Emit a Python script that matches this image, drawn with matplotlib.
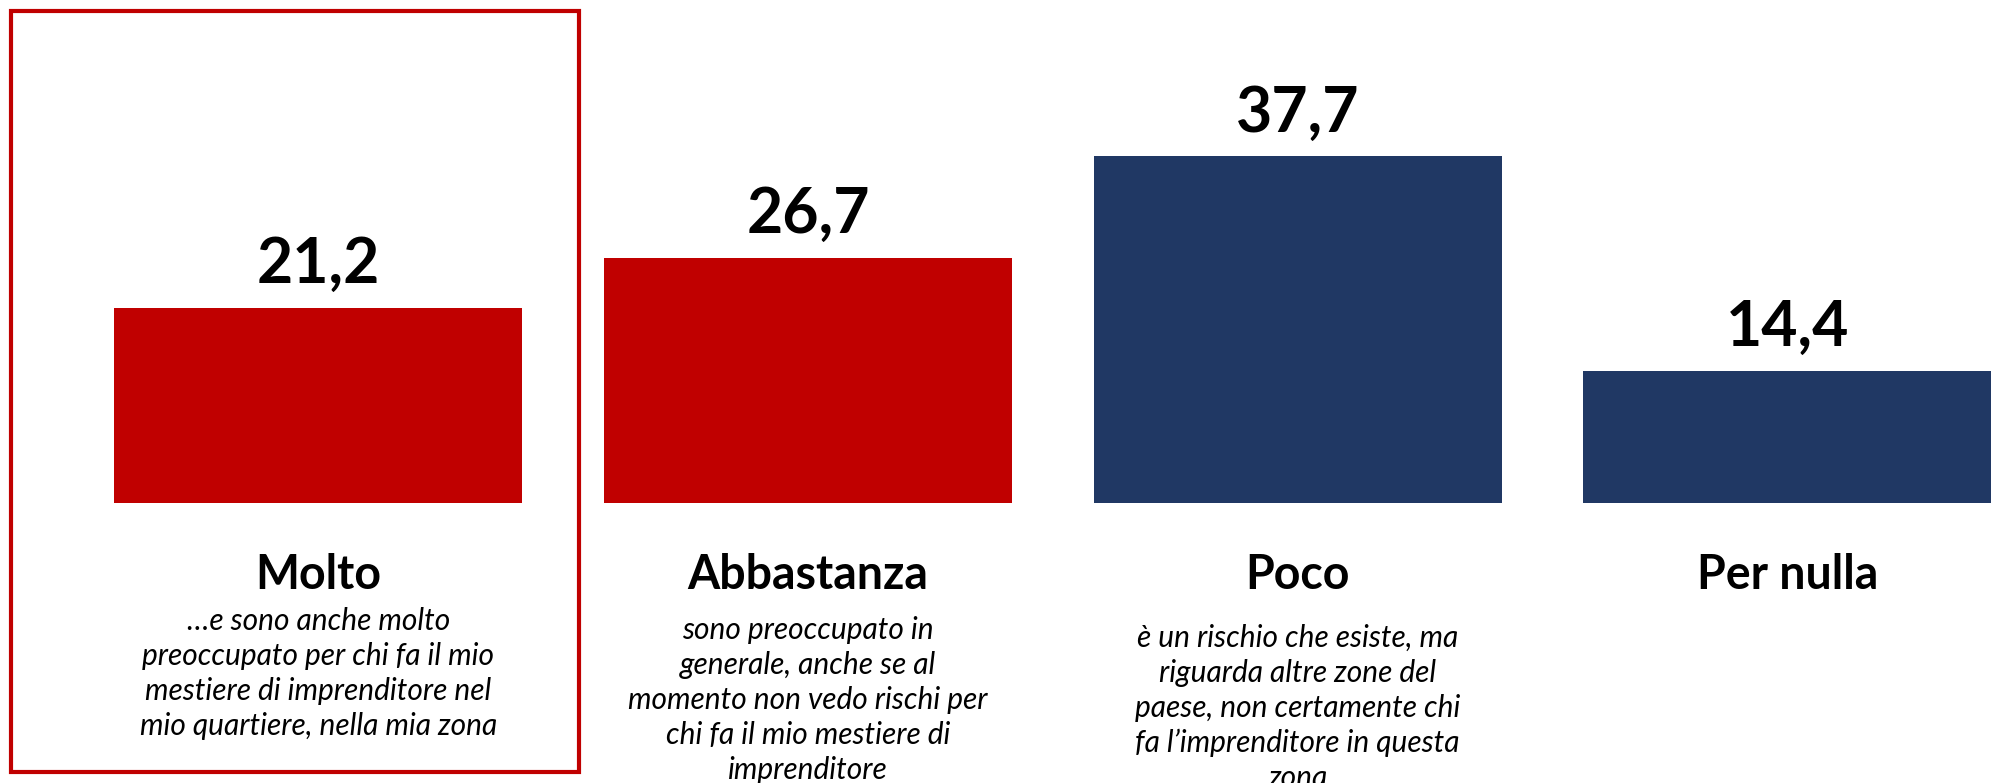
import numpy as np
import matplotlib.pyplot as plt
from matplotlib.patches import Rectangle

categories = ['Molto', 'Abbastanza', 'Poco', 'Per nulla']
values = [21.2, 26.7, 37.7, 14.4]
value_labels = ['21,2', '26,7', '37,7', '14,4']
descriptions = [
    '…e sono anche molto\npreoccupato per chi fa il mio\nmestiere di imprenditore nel\nmio quartiere, nella mia zona',
    'sono preoccupato in\ngenerale, anche se al\nmomento non vedo rischi per\nchi fa il mio mestiere di\nimprenditore',
    'è un rischio che esiste, ma\nriguarda altre zone del\npaese, non certamente chi\nfa l’imprenditore in questa\nzona',
    '',
]
colors = ['#C00000', '#C00000', '#203864', '#203864']

# vertical start of each description (data units, below the baseline)
desc_top = [-11.3, -12.3, -13.1, -13.1]

plt.rcParams['font.family'] = ['Lato', 'DejaVu Sans']

fig = plt.figure(figsize=(19.92, 7.83), dpi=100)
ax = fig.add_axes([0, 0, 1, 1])

x = np.arange(len(categories))
ax.bar(x, values, width=0.833, color=colors)

for i in range(len(categories)):
    ax.annotate(value_labels[i], (x[i], values[i]), xytext=(0, 18),
                textcoords='offset points', ha='center', va='baseline',
                fontsize=45, fontweight='bold', color='black')
    ax.text(x[i], -7.8, categories[i], ha='center', va='center',
            fontsize=33.5, fontweight='bold', color='black')
    if descriptions[i]:
        ax.text(x[i], desc_top[i], descriptions[i], ha='center', va='top',
                fontsize=21.5, style='italic', color='black', linespacing=1.3)

# red frame around the first category
ax.add_patch(Rectangle((0.0055, 0.014), 0.285, 0.972, transform=fig.transFigure,
                       fill=False, edgecolor='#C00000', linewidth=3, clip_on=False))

ax.set_xlim(-0.650, 3.418)
ax.set_ylim(-30.4, 54.7)
ax.axis('off')

fig.savefig('out.png', dpi=100)
